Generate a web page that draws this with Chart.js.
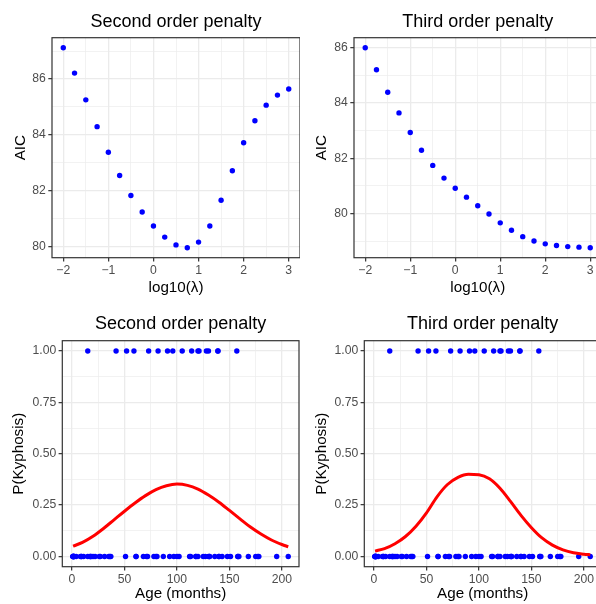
<!DOCTYPE html>
<html><head><meta charset="utf-8">
<script src="https://cdn.jsdelivr.net/npm/chart.js@4.4.1/dist/chart.umd.min.js"></script>
<style>
html,body{margin:0;padding:0;width:596px;height:604px;overflow:hidden;background:#fff;}
canvas{position:absolute;}
</style></head><body>
<canvas id="c1" width="300" height="302" style="left:0px;top:0px"></canvas>
<canvas id="c2" width="320" height="302" style="left:298px;top:0px"></canvas>
<canvas id="c3" width="300" height="302" style="left:0px;top:302px"></canvas>
<canvas id="c4" width="320" height="302" style="left:298px;top:302px"></canvas>
<script>
// ---------- data ----------
const logLambda = [-2,-1.75,-1.5,-1.25,-1,-0.75,-0.5,-0.25,0,0.25,0.5,0.75,1,1.25,1.5,1.75,2,2.25,2.5,2.75,3];
const aicSecond = [87.12,86.21,85.25,84.29,83.37,82.54,81.82,81.23,80.73,80.33,80.05,79.95,80.15,80.73,81.65,82.71,83.71,84.50,85.06,85.42,85.64];
const aicThird  = [86.00,85.20,84.39,83.64,82.93,82.29,81.74,81.28,80.91,80.59,80.28,79.98,79.66,79.39,79.16,79.00,78.90,78.84,78.80,78.78,78.76];

const agePresent = [128,59,82,105,96,15,52,91,73,139,121,139,120,130,114,157,42];
const ageAbsent = [71,158,2,1,1,61,37,113,148,18,1,168,1,78,175,80,27,22,131,9,8,100,4,151,31,125,130,112,140,93,1,20,35,143,61,97,136,131,177,68,9,2,140,72,2,51,102,81,118,118,17,195,159,18,15,158,127,87,206,11,178,26,120,36];

const curveAge = [1,10,20,30,40,50,60,70,80,90,100,110,120,130,140,150,160,170,180,190,200,206];
const pSecond  = [0.050,0.068,0.098,0.136,0.178,0.220,0.260,0.296,0.325,0.344,0.352,0.346,0.328,0.299,0.264,0.224,0.183,0.143,0.109,0.080,0.058,0.047];
const pThird   = [0.026,0.038,0.062,0.097,0.147,0.212,0.290,0.350,0.385,0.400,0.398,0.378,0.332,0.268,0.200,0.140,0.090,0.055,0.032,0.018,0.011,0.008];

const lambdaTicks = [-2,-1,0,1,2,3];
const aicTicks = [80,82,84,86];
const probTicks = [0,0.25,0.5,0.75,1];
const ageTicks = [0,50,100,150,200];

const titles = ['Second order penalty','Third order penalty','Second order penalty','Third order penalty'];
const xTitles = ['log10(\u03BB)','log10(\u03BB)','Age (months)','Age (months)'];
const yTitles = ['AIC','AIC','P(Kyphosis)','P(Kyphosis)'];

// ---------- helpers ----------
const FONT = "'Liberation Sans', Arial, Helvetica, sans-serif";
Chart.defaults.font.family = FONT;
function expand(arr){const mn=Math.min(...arr),mx=Math.max(...arr),d=(mx-mn)*0.05;return [mn-d,mx+d];}
function withMinor(major,min,max){
  const st=major[1]-major[0];const out=[];
  for(let i=-1;i<major.length;i++){
    const a=i<0?major[0]-st:major[i];
    if(i>=0)out.push({v:a,m:true});
    const mid=a+st/2; out.push({v:mid,m:false});
  }
  return out.filter(t=>t.v>=min-1e-9&&t.v<=max+1e-9);
}
const fmtSigned=v=>(v<0?'\u2212'+Math.abs(v):String(v));

const panelPlugin={
  id:'panelDeco',
  afterDatasetsDraw(chart,args,o){
    const {ctx,chartArea:a}=chart;
    ctx.save();
    ctx.strokeStyle='#333333';ctx.lineWidth=1.2;
    ctx.strokeRect(a.left,a.top,a.right-a.left,a.bottom-a.top);
    ctx.restore();
  },
  afterDraw(chart,args,o){
    const {ctx,chartArea:a}=chart;
    ctx.save();
    ctx.font='18px '+FONT;ctx.fillStyle='#000';ctx.textAlign='center';ctx.textBaseline='alphabetic';
    ctx.fillText(o.text,(a.left+a.right)/2,o.baseline);
    ctx.restore();
  }
};

function makeAxis(major,lim,fmt,isX,size,titleText,titlePad){
  const all=withMinor(major,lim[0],lim[1]);
  const isMajor=v=>major.some(m=>Math.abs(m-v)<1e-9);
  return {
    type:'linear',position:isX?'bottom':'left',min:lim[0],max:lim[1],
    afterBuildTicks:s=>{s.ticks=all.map(t=>({value:t.v}));},
    afterFit:s=>{ if(isX) s.height=size; else s.width=size; },
    border:{display:false},
    grid:{
      color:'#EBEBEB',
      lineWidth:c=>isMajor(c.tick.value)?1.3:0.65,
      tickColor:c=>isMajor(c.tick.value)?'#333333':'rgba(0,0,0,0)',
      tickWidth:1.2,tickLength:3.7,drawTicks:true
    },
    ticks:{
      autoSkip:false,maxRotation:0,minRotation:0,padding:2.4,color:'#4D4D4D',
      font:{size:12.2,family:FONT},
      callback:v=>isMajor(v)?fmt(v):''
    },
    title:{display:true,text:titleText,color:'#000',font:{size:15.2,family:FONT,lineHeight:1.2},padding:titlePad}
  };
}

function makeChart(id,p){
  new Chart(document.getElementById(id),{
    type:'scatter',
    data:{datasets:p.datasets},
    options:{
      responsive:false,animation:false,devicePixelRatio:1,
      layout:{autoPadding:false,padding:{left:0,top:p.T,right:p.pr,bottom:0}},
      plugins:{legend:{display:false},tooltip:{enabled:false},panelDeco:{text:p.title,baseline:27.3}},
      scales:{
        x:makeAxis(p.xMajor,p.xLim,p.xFmt,true,p.xH,p.xTitle,{top:0,bottom:p.xTitlePad}),
        y:makeAxis(p.yMajor,p.yLim,p.yFmt,false,p.yW,p.yTitle,{top:p.yTitlePad,bottom:0})
      }
    },
    plugins:[panelPlugin]
  });
}

const pts=(xs,ys)=>xs.map((x,i)=>({x:x,y:ys[i]}));
const ptStyle={type:'scatter',pointRadius:2.7,pointBackgroundColor:'#0000FF',pointBorderWidth:0,showLine:false,clip:0};
const lineStyle={type:'scatter',showLine:true,borderColor:'#FF0000',borderWidth:3,pointRadius:0,cubicInterpolationMode:'monotone',fill:false};
const ageLim=expand(agePresent.concat(ageAbsent));
const probLim=expand([0,1]);
const lamLim=expand(logLambda);

makeChart('c1',{title:titles[0],xTitle:xTitles[0],yTitle:yTitles[0],T:37.7,pr:0,xH:44.3,yW:52,
  xTitlePad:4.6,yTitlePad:11.6,xMajor:lambdaTicks,yMajor:aicTicks,xLim:lamLim,yLim:expand(aicSecond),
  xFmt:fmtSigned,yFmt:v=>String(v),
  datasets:[Object.assign({data:pts(logLambda,aicSecond)},ptStyle)]});
makeChart('c2',{title:titles[1],xTitle:xTitles[1],yTitle:yTitles[1],T:37.7,pr:16.5,xH:44.3,yW:56,
  xTitlePad:4.6,yTitlePad:14.2,xMajor:lambdaTicks,yMajor:aicTicks,xLim:lamLim,yLim:expand(aicThird),
  xFmt:fmtSigned,yFmt:v=>String(v),
  datasets:[Object.assign({data:pts(logLambda,aicThird)},ptStyle)]});
makeChart('c3',{title:titles[2],xTitle:xTitles[2],yTitle:yTitles[2],T:38.7,pr:1,xH:37.3,yW:62.3,
  xTitlePad:0.9,yTitlePad:9.9,xMajor:ageTicks,yMajor:probTicks,xLim:ageLim,yLim:probLim,
  xFmt:v=>String(v),yFmt:v=>v.toFixed(2),
  datasets:[Object.assign({data:pts(curveAge,pSecond)},lineStyle),
            Object.assign({data:agePresent.map(a=>({x:a,y:1}))},ptStyle),
            Object.assign({data:ageAbsent.map(a=>({x:a,y:0}))},ptStyle)]});
makeChart('c4',{title:titles[3],xTitle:xTitles[3],yTitle:yTitles[3],T:38.7,pr:17,xH:37.3,yW:66.3,
  xTitlePad:0.9,yTitlePad:14.9,xMajor:ageTicks,yMajor:probTicks,xLim:ageLim,yLim:probLim,
  xFmt:v=>String(v),yFmt:v=>v.toFixed(2),
  datasets:[Object.assign({data:pts(curveAge,pThird)},lineStyle),
            Object.assign({data:agePresent.map(a=>({x:a,y:1}))},ptStyle),
            Object.assign({data:ageAbsent.map(a=>({x:a,y:0}))},ptStyle)]});
</script>
</body></html>
